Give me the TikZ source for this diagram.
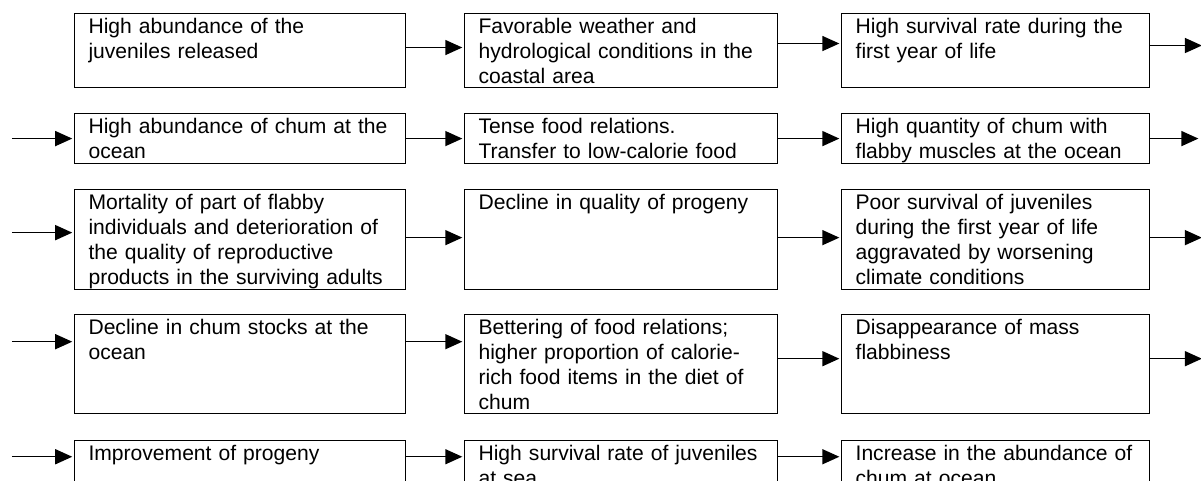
\documentclass[tikz,border=0pt]{standalone}
\usepackage{fontspec}
\setmainfont{Liberation Sans}
\usetikzlibrary{positioning,arrows.meta}

\begin{document}
\begin{tikzpicture}[stage/.style={draw=black,line width=0.6pt,align=left,inner xsep=0.28cm,inner ysep=0.05cm,text height=0.35cm,font=\fontsize{12}{14.2}\selectfont},
    colA/.style={text width=6.06cm},colB/.style={text width=5.70cm},colC/.style={text width=5.60cm},
    rowh/.style={text depth=#1},
    flow/.style={-{Triangle[length=0.34cm,width=0.3cm]},line width=0.8pt,shorten >=1pt}]
    \clip (0,0) rectangle (24.02,-9.62);
    % row 1
    \node[stage,colA,rowh=1.03cm,anchor=north west] (n11) at (1.48,-0.26) {High abundance of the\\juveniles released};
    \node[stage,colB,rowh=1.03cm,right=1.16cm of n11] (n12) {Favorable weather and\\hydrological conditions in the\\coastal area};
    \node[stage,colC,rowh=1.03cm,right=1.26cm of n12] (n13) {High survival rate during the\\first year of life};
    % row 2
    \node[stage,colA,rowh=0.55cm,below=0.5cm of n11] (n21) {High abundance of chum at the\\ocean};
    \node[stage,colB,rowh=0.55cm,right=1.16cm of n21] (n22) {Tense food relations.\\Transfer to low-calorie food};
    \node[stage,colC,rowh=0.55cm,right=1.26cm of n22] (n23) {High quantity of chum with\\flabby muscles at the ocean};
    % row 3
    \node[stage,colA,rowh=1.55cm,below=0.5cm of n21] (n31) {Mortality of part of flabby\\individuals and deterioration of\\the quality of reproductive\\products in the surviving adults};
    \node[stage,colB,rowh=1.55cm,right=1.16cm of n31] (n32) {Decline in quality of progeny};
    \node[stage,colC,rowh=1.55cm,right=1.26cm of n32] (n33) {Poor survival of juveniles\\during the first year of life\\aggravated by worsening\\climate conditions};
    % row 4
    \node[stage,colA,rowh=1.53cm,below=0.48cm of n31] (n41) {Decline in chum stocks at the\\ocean};
    \node[stage,colB,rowh=1.53cm,right=1.16cm of n41] (n42) {Bettering of food relations;\\higher proportion of calorie-\\rich food items in the diet of\\chum};
    \node[stage,colC,rowh=1.53cm,right=1.26cm of n42] (n43) {Disappearance of mass\\flabbiness};
    % row 5
    \node[stage,colA,rowh=1.03cm,below=0.52cm of n41] (n51) {Improvement of progeny};
    \node[stage,colB,rowh=1.03cm,right=1.16cm of n51] (n52) {High survival rate of juveniles\\at sea};
    \node[stage,colC,rowh=1.03cm,right=1.26cm of n52] (n53) {Increase in the abundance of\\chum at ocean};
    % arrows inside the rows
    \foreach \a/\b/\dy in {n11/n12/0.06,n12/n13/0.14,n21/n22/0,n22/n23/0,n31/n32/0.04,n32/n33/0.04,n41/n42/0.45,n42/n43/0.11,n51/n52/0.42,n52/n53/0.42}
      \draw[flow] ([yshift=\dy cm]\a.east) -- ([yshift=\dy cm]\b.west);
    % arrows coming in from the row above
    \foreach \r/\dy in {2/0,3/0.14,4/0.45,5/0.42}{
      \coordinate (in\r) at ([xshift=-1.24cm,yshift=\dy cm]n\r1.west);
      \draw[flow] (in\r) -- (in\r -| n\r1.west);
    }
    % arrows going on to the next row
    \foreach \r/\dy/\len in {1/0.1/1.07,2/0/1.0,3/0.04/1.07,4/0.11/1.07}{
      \coordinate (out\r) at ([xshift=\len cm,yshift=\dy cm]n\r3.east);
      \draw[flow] ([yshift=\dy cm]n\r3.east) -- (out\r);
    }
  \end{tikzpicture}
\end{document}
